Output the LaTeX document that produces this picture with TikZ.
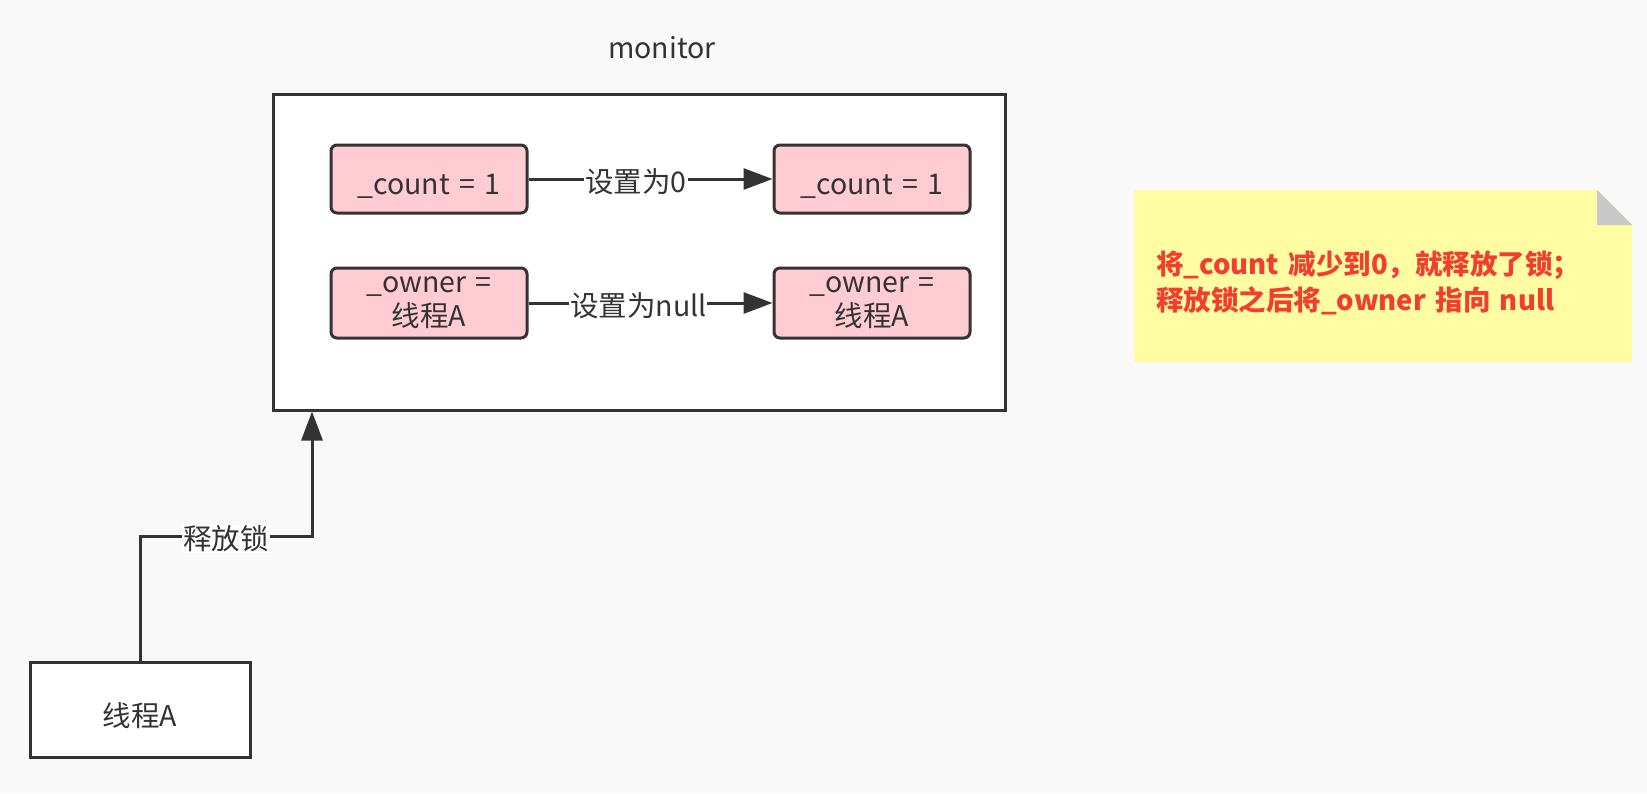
\documentclass[tikz,border=0pt]{standalone}
\usepackage{fontspec}
\setmainfont{Noto Sans CJK SC}[WordSpace=1.5]
\usetikzlibrary{arrows.meta}
\definecolor{pagebg}{HTML}{F9F9F9}
\definecolor{ink}{HTML}{333333}
\definecolor{pinkfill}{HTML}{FFCCD3}
\definecolor{notefill}{HTML}{FFFCA3}
\definecolor{foldgray}{HTML}{C8C8C8}
\definecolor{notered}{HTML}{F23E2E}
\tikzset{
  txt/.style={text=ink, font=\fontsize{28.5}{34}\selectfont},
  pinkbox/.style={txt, draw=ink, line width=3pt, fill=pinkfill, rounded corners=6pt,
    minimum width=196pt, minimum height=68pt, inner sep=0pt, align=center},
  plainbox/.style={txt, draw=ink, line width=3pt, fill=white, inner sep=0pt},
  conn/.style={draw=ink, line width=3pt, -{Triangle[length=29pt,width=21pt]}},
  lbl/.style={txt, fill=white, inner sep=1pt, yshift=-3pt},
}
\begin{document}
\begin{tikzpicture}[x=1pt,y=-1pt]
\fill[pagebg] (0,0) rectangle (1647,793);
\useasboundingbox (0,0) rectangle (1647,793);

% monitor
\node[plainbox, minimum width=732pt, minimum height=316pt] (monitor) at (639,252) {};
\node[txt] (montitle) at (662,48) {monitor};

% pink boxes
\node[pinkbox, text height=32pt, text depth=2pt] (c1) at (429,179) {\_count = 1};
\node[pinkbox, text height=32pt, text depth=2pt] (c2) at (872,179) {\_count = 1};
\node[pinkbox, minimum height=70pt] (o1) at (429,303) {\_owner =\\线程A};
\node[pinkbox, minimum height=70pt] (o2) at (872,303) {\_owner =\\线程A};

\draw[conn] (c1.east) -- node[lbl, pos=0.44] {设置为0} (c2.west);
\draw[conn] (o1.east) -- node[lbl, pos=0.45] {设置为null} (o2.west);

% thread A
\node[plainbox, minimum width=220pt, minimum height=95pt, text height=35pt, text depth=2pt] (thread) at (140,710) {线程A};
\coordinate (elbow) at (312,536);
\draw[conn] (thread.north) |- node[lbl, pos=0.75] {释放锁} (elbow) -- (elbow |- monitor.south);

% note
\fill[notefill] (1134,190) -- (1597,190) -- (1632,225) -- (1632,362) -- (1134,362) -- cycle;
\fill[foldgray] (1597,190) -- (1597,225) -- (1632,225) -- cycle;
\node[anchor=west, align=left, text=notered, inner sep=0pt,
  font=\fontsize{27.5}{36}\selectfont\bfseries] (notetext) at (1156,283)
  {将\_count 减少到0，就释放了锁；\\释放锁之后将\_owner 指向 null};
\end{tikzpicture}
\end{document}
